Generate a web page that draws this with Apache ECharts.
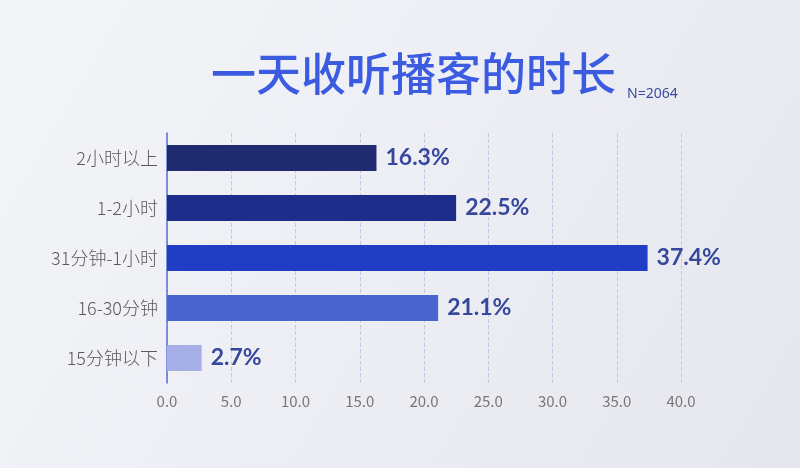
<!DOCTYPE html>
<html>
<head>
<meta charset="utf-8">
<script src="https://cdn.jsdelivr.net/npm/echarts@6/dist/echarts.min.js"></script>
<style>
html,body{margin:0;padding:0;}
#c{width:800px;height:468px;}
</style>
</head>
<body>
<div id="c"></div>
<script>
const categories = ['2小时以上', '1-2小时', '31分钟-1小时', '16-30分钟', '15分钟以下'];
const values = [16.3, 22.5, 37.4, 21.1, 2.7];
const barColors = ['#1f2b6e', '#1c2d8a', '#1f3ec4', '#4a64cf', '#a6b0e6'];
const titleText = '一天收听播客的时长';
const noteText = 'N=2064';

const chart = echarts.init(document.getElementById('c'));
chart.setOption({
  backgroundColor: {
    type: 'linear', x: 0, y: 0, x2: 1, y2: 1,
    colorStops: [{offset: 0, color: '#f4f5f9'}, {offset: 1, color: '#e6e7ee'}]
  },
  title: [
    {
      text: titleText, left: 206, top: 46,
      textStyle: {fontSize: 45, fontWeight: 500, color: '#3b5ce0', fontFamily: 'Noto Sans CJK SC'}
    },
    {
      text: noteText, left: 622, top: 82,
      textStyle: {fontSize: 14, fontWeight: 'normal', color: '#3a4a9e', fontFamily: 'Noto Sans'}
    }
  ],
  grid: {left: 167, right: 119, top: 133, bottom: 85, containLabel: false},
  xAxis: {
    type: 'value', min: 0, max: 40, interval: 5,
    axisLine: {show: false}, axisTick: {show: false},
    axisLabel: {
      formatter: v => v.toFixed(1), color: '#777', fontSize: 15, margin: 11,
      fontFamily: 'Noto Sans CJK SC'
    },
    splitLine: {lineStyle: {type: 'dashed', color: '#c4c8e6', width: 1}}
  },
  yAxis: {
    type: 'category', data: categories, inverse: true,
    axisLine: {lineStyle: {color: '#5b6fd8', width: 1.5}},
    axisTick: {length: 4, lineStyle: {color: '#5b6fd8'}},
    axisLabel: {color: '#5a5a5a', fontSize: 18, fontWeight: 300, margin: 9, fontFamily: 'Noto Sans CJK SC'}
  },
  series: [{
    type: 'bar',
    barWidth: 26,
    data: values.map((v, i) => ({value: v, itemStyle: {color: barColors[i]}})),
    label: {
      show: true, position: 'right', distance: 9,
      formatter: p => p.value.toFixed(1) + '%',
      fontSize: 23, fontWeight: 'bold', color: '#36479c', fontFamily: 'Lato'
    }
  }]
});
</script>
</body>
</html>
